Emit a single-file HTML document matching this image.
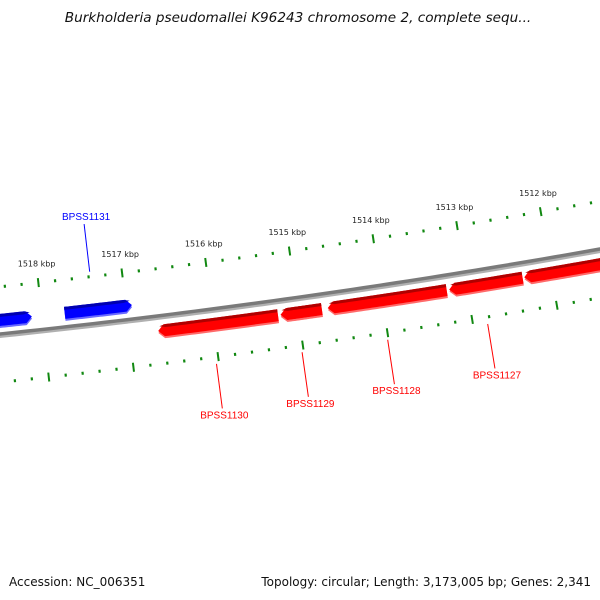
<!DOCTYPE html>
<html><head><meta charset="utf-8"><style>
html,body{margin:0;padding:0;background:#fff;}
svg{display:block;font-family:"DejaVu Sans","Liberation Sans",sans-serif;}
</style></head><body>
<svg id="map" width="600" height="600" viewBox="0 0 600 600">
<text x="298" y="22" text-anchor="middle" font-size="13.6" font-style="italic" fill="#111">Burkholderia pseudomallei K96243 chromosome 2, complete sequ...</text>
<g id="outerTicks"></g>
<g id="innerTicks"></g>
<g id="backbone"></g>
<g id="genes"></g>
<g id="labels"></g>
<text x="9" y="586" font-size="12" fill="#111">Accession: NC_006351</text>
<text x="591" y="586" font-size="12" fill="#111" text-anchor="end">Topology: circular; Length: 3,173,005 bp; Genes: 2,341</text>
</svg>
<script>
const majorTicks = [1519, 1518, 1517, 1516, 1515, 1514, 1513, 1512, 1511];
const tickLabels = ["1518 kbp","1517 kbp","1516 kbp","1515 kbp","1514 kbp","1513 kbp","1512 kbp"];
const tickLabelValues = [1518, 1517, 1516, 1515, 1514, 1513, 1512];
const geneNames = ["BPSS1132","BPSS1131","BPSS1130","BPSS1129","BPSS1128","BPSS1127","BPSS1126"];
const geneStarts = [1518.9, 1517.73, 1516.66, 1515.21, 1514.65, 1513.21, 1512.32];
const geneEnds = [1518.12, 1516.93, 1515.24, 1514.72, 1513.24, 1512.34, 1511.1];
const geneStrand = [1, 1, -1, -1, -1, -1, -1];
const labelledGenes = ["BPSS1131","BPSS1130","BPSS1129","BPSS1128","BPSS1127"];
const labelAnchorKbp = [1517.38, 1516.03, 1515.02, 1514.01, 1512.83];

const NS = "http://www.w3.org/2000/svg";
function xOf(kbp){ return 43.5 + (1518 - kbp) * 84.2; }
function yCurve(x){ return 334 - 0.105 * x - 0.0000611 * x * x; }
function pos(kbp, d){
  const x0 = xOf(kbp), y0 = yCurve(x0);
  const s = -0.105 - 0.0001222 * x0;
  const n = Math.sqrt(1 + s * s);
  return [x0 - s * d / n, y0 + d / n];
}
function mk(tag, attrs, parent){
  const e = document.createElementNS(NS, tag);
  for (const k in attrs) e.setAttribute(k, attrs[k]);
  parent.appendChild(e); return e;
}
function arcPath(k1, k2, d){
  let p = "";
  const steps = 60;
  for (let i = 0; i <= steps; i++){
    const k = k1 + (k2 - k1) * i / steps;
    const [x, y] = pos(k, d);
    p += (i ? "L" : "M") + x.toFixed(2) + " " + y.toFixed(2);
  }
  return p;
}
const bb = document.getElementById("backbone");
let e = mk("path", {d: arcPath(1519, 1511, 1.5), stroke: "#b0b0b0", "stroke-width": 5, fill: "none"}, bb);


e = mk("path", {d: arcPath(1519, 1511, 0), stroke: "#7a7a7a", "stroke-width": 3.5, fill: "none"}, bb);



function ticks(group, d, withLabels){
  for (let k = majorTicks[0]; k >= majorTicks[majorTicks.length - 1] - 0.001; k -= 0.2){
    const kr = Math.round(k * 10) / 10;
    const major = Math.abs(kr - Math.round(kr)) < 0.01;
    const len = major ? 4.5 : 1.5;
    const [x1, y1] = pos(kr, d - len), [x2, y2] = pos(kr, d + len);
    const t = mk("line", {x1, y1, x2, y2, stroke: "#118811", "stroke-width": major ? 2 : 2.2}, group);
    
    
  }
  if (withLabels){
    tickLabelValues.forEach((v, i) => {
      const [x, y] = pos(v, d - 16);
      const t = mk("text", {x, y, "font-size": 8, "text-anchor": "middle", fill: "#222"}, group);
      t.textContent = tickLabels[i];
      
      
    });
  }
}
ticks(document.getElementById("outerTicks"), -47, true);
ticks(document.getElementById("innerTicks"), 48, false);

const gg = document.getElementById("genes");
// kL = larger kbp (left side), kR = smaller kbp (right side); arrowRight selects tip side
function genePoly(kL, kR, arrowRight, d1, d2){
  const h = 6 / 84.2;
  const pts = [];
  const steps = 30;
  const a = arrowRight ? kL : kL - h;
  const b = arrowRight ? kR + h : kR;
  for (let i = 0; i <= steps; i++) pts.push(pos(a + (b - a) * i / steps, d1));
  if (arrowRight) pts.push(pos(kR, (d1 + d2) / 2));
  for (let i = steps; i >= 0; i--) pts.push(pos(a + (b - a) * i / steps, d2));
  if (!arrowRight) pts.push(pos(kL, (d1 + d2) / 2));
  return pts.map(p => p[0].toFixed(2) + "," + p[1].toFixed(2)).join(" ");
}
geneNames.forEach((name, i) => {
  const st = geneStrand[i];
  const dTop = st > 0 ? -20 : 9;
  const dBot = dTop + 12;
  const main = st > 0 ? "#0000ff" : "#ff0000";
  const dark = st > 0 ? "#0000b0" : "#b00000";
  const light = st > 0 ? "#6a6aff" : "#ff6a6a";
  const kL = geneStarts[i], kR = geneEnds[i];
  const g = mk("g", {}, gg);
  
  
  mk("polygon", {points: genePoly(kL, kR, st > 0, dTop + 2, dBot + 2), fill: light}, g);
  mk("polygon", {points: genePoly(kL, kR, st > 0, dTop, dBot), fill: main}, g);
  mk("polygon", {points: genePoly(kL - (st < 0 ? 0.02 : 0), kR + (st > 0 ? 0.02 : 0), st > 0, dTop, dTop + 3), fill: dark}, g);
});

const lg = document.getElementById("labels");
labelledGenes.forEach((name, i) => {
  const idx = geneNames.indexOf(name);
  const st = geneStrand[idx];
  const k = labelAnchorKbp[i];
  const col = st > 0 ? "#0000ff" : "#ff0000";
  let p1, p2;
  if (st > 0){ p1 = pos(k, -52); p2 = pos(k, -100); }
  else { p1 = pos(k, 55); p2 = pos(k, 100); }
  const l = mk("line", {x1: p1[0], y1: p1[1], x2: p2[0], y2: p2[1], stroke: col, "stroke-width": 1}, lg);
  
  
  const ty = st > 0 ? p2[1] - 4 : p2[1] + 10;
  const t = mk("text", {x: p2[0] + 2, y: ty, "font-size": 10, "text-anchor": "middle", fill: col, "font-family": "Liberation Sans Narrow, Liberation Sans, sans-serif"}, lg);
  t.textContent = name;
  
  
});
</script>
</body></html>
